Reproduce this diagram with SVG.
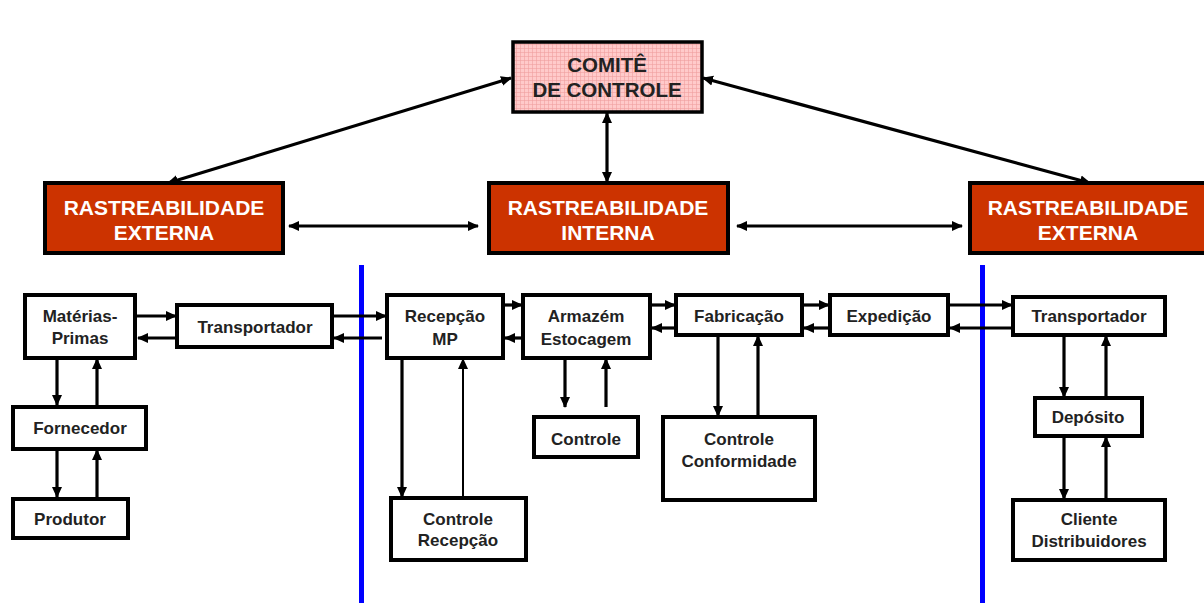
<svg xmlns="http://www.w3.org/2000/svg" width="1204" height="611" viewBox="0 0 1204 611">
<defs>
<pattern id="grid" width="4" height="4" patternUnits="userSpaceOnUse">
<rect width="4" height="4" fill="#ffcaca"/>
<path d="M0,0.5 H4 M0.5,0 V4" stroke="#f0a0a0" stroke-width="0.6"/>
</pattern>
<marker id="ah" markerUnits="userSpaceOnUse" markerWidth="11" markerHeight="11" refX="10" refY="5.5" orient="auto-start-reverse">
<path d="M0,0.5 L11,5.5 L0,10.5 z" fill="#000"/>
</marker>
</defs>
<style>
.box{fill:#fff;stroke:#000;stroke-width:4}
.red{fill:#cc3300;stroke:#000;stroke-width:4}
.pink{fill:url(#grid);stroke:#000;stroke-width:3.5}
.t{font-family:"Liberation Sans",Arial,sans-serif;font-weight:bold;font-size:17px;fill:#222;text-anchor:middle}
.tw{font-family:"Liberation Sans",Arial,sans-serif;font-weight:bold;font-size:21px;fill:#fff;text-anchor:middle}
.tc{font-family:"Liberation Sans",Arial,sans-serif;font-weight:bold;font-size:20.5px;fill:#222;text-anchor:middle}
.c{stroke:#000;stroke-width:3.2;fill:none;marker-end:url(#ah)}
.c2{stroke:#000;stroke-width:3.2;fill:none;marker-end:url(#ah);marker-start:url(#ah)}
.blue{stroke:#0000ff;stroke-width:5}
</style>
<rect width="1204" height="611" fill="#fff"/>
<g id="dividers">
<line class="blue" x1="361.5" y1="265" x2="361.5" y2="603"/>
<line class="blue" x1="982.5" y1="265" x2="982.5" y2="603"/>
</g>
<g id="connectors">
<line class="c2" x1="511" y1="78" x2="168" y2="183"/>
<line class="c2" x1="703" y1="78" x2="1090" y2="183"/>
<line class="c2" x1="607" y1="113" x2="607" y2="182"/>
<line class="c2" x1="289" y1="226" x2="478" y2="226"/>
<line class="c2" x1="737" y1="226" x2="962" y2="226"/>
<line class="c" x1="137" y1="316" x2="176" y2="316"/>
<line class="c" x1="177" y1="338" x2="138" y2="338"/>
<line class="c" x1="333" y1="316" x2="386" y2="316"/>
<line class="c" x1="382" y1="338" x2="334" y2="338"/>
<line class="c" x1="57" y1="359" x2="57" y2="405"/>
<line class="c" x1="97" y1="405" x2="97" y2="359"/>
<line class="c" x1="57" y1="450" x2="57" y2="497"/>
<line class="c" x1="97" y1="497" x2="97" y2="450"/>
<line class="c" x1="504" y1="305" x2="522" y2="305"/>
<line class="c" x1="523" y1="338" x2="505" y2="338"/>
<line class="c" x1="402" y1="359" x2="402" y2="497"/>
<line x1="463" y1="497" x2="463" y2="359" stroke="#000" stroke-width="2" marker-end="url(#ah)"/>
<line class="c" x1="565" y1="359" x2="565" y2="407"/>
<line class="c" x1="606" y1="407" x2="606" y2="359"/>
<line class="c" x1="651" y1="305" x2="675" y2="305"/>
<line class="c" x1="676" y1="328" x2="652" y2="328"/>
<line class="c" x1="803" y1="305" x2="829" y2="305"/>
<line class="c" x1="830" y1="328" x2="804" y2="328"/>
<line class="c" x1="949" y1="305" x2="1012" y2="305"/>
<line class="c" x1="1013" y1="328" x2="950" y2="328"/>
<line class="c" x1="718" y1="336" x2="718" y2="416"/>
<line class="c" x1="758" y1="416" x2="758" y2="336"/>
<line class="c" x1="1064" y1="336" x2="1064" y2="397"/>
<line class="c" x1="1106" y1="397" x2="1106" y2="336"/>
<line class="c" x1="1064" y1="437" x2="1064" y2="499"/>
<line class="c" x1="1106" y1="499" x2="1106" y2="437"/>
</g>
<g id="comite">
<rect class="pink" x="513" y="42" width="189" height="70"/>
<text class="tc" x="607" y="72">COMITÊ</text>
<text class="tc" x="607" y="97">DE CONTROLE</text>
</g>
<g id="rast-externa-esq">
<rect class="red" x="45" y="183" width="238" height="70"/>
<text class="tw" x="164" y="215">RASTREABILIDADE</text>
<text class="tw" x="164" y="240">EXTERNA</text>
</g>
<g id="rast-interna">
<rect class="red" x="489" y="183" width="239" height="70"/>
<text class="tw" x="608" y="215">RASTREABILIDADE</text>
<text class="tw" x="608" y="240">INTERNA</text>
</g>
<g id="rast-externa-dir">
<rect class="red" x="970" y="183" width="240" height="70"/>
<text class="tw" x="1088" y="215">RASTREABILIDADE</text>
<text class="tw" x="1088" y="240">EXTERNA</text>
</g>
<g id="materias-primas">
<rect class="box" x="25" y="295" width="110" height="63"/>
<text class="t" x="80" y="322">Matérias-</text>
<text class="t" x="80" y="344">Primas</text>
</g>
<g id="transportador-esq">
<rect class="box" x="177" y="305" width="155" height="42"/>
<text class="t" x="255" y="333">Transportador</text>
</g>
<g id="fornecedor">
<rect class="box" x="13" y="407" width="133" height="42"/>
<text class="t" x="80" y="434">Fornecedor</text>
</g>
<g id="produtor">
<rect class="box" x="13" y="499" width="115" height="39"/>
<text class="t" x="70" y="525">Produtor</text>
</g>
<g id="recepcao-mp">
<rect class="box" x="387" y="295" width="116" height="63"/>
<text class="t" x="445" y="322">Recepção</text>
<text class="t" x="445" y="345">MP</text>
</g>
<g id="armazem">
<rect class="box" x="523" y="295" width="127" height="63"/>
<text class="t" x="586" y="322">Armazém</text>
<text class="t" x="586" y="345">Estocagem</text>
</g>
<g id="controle">
<rect class="box" x="534" y="417" width="104" height="40"/>
<text class="t" x="586" y="445">Controle</text>
</g>
<g id="controle-recepcao">
<rect class="box" x="391" y="498" width="135" height="62"/>
<text class="t" x="458" y="525">Controle</text>
<text class="t" x="458" y="546">Recepção</text>
</g>
<g id="fabricacao">
<rect class="box" x="676" y="295" width="126" height="40"/>
<text class="t" x="739" y="322">Fabricação</text>
</g>
<g id="expedicao">
<rect class="box" x="830" y="295" width="118" height="40"/>
<text class="t" x="889" y="322">Expedição</text>
</g>
<g id="controle-conformidade">
<rect class="box" x="663" y="417" width="152" height="83"/>
<text class="t" x="739" y="445">Controle</text>
<text class="t" x="739" y="467">Conformidade</text>
</g>
<g id="transportador-dir">
<rect class="box" x="1013" y="297" width="152" height="38"/>
<text class="t" x="1089" y="322">Transportador</text>
</g>
<g id="deposito">
<rect class="box" x="1035" y="398" width="107" height="38"/>
<text class="t" x="1088" y="423">Depósito</text>
</g>
<g id="cliente">
<rect class="box" x="1013" y="500" width="152" height="60"/>
<text class="t" x="1089" y="525">Cliente</text>
<text class="t" x="1089" y="547">Distribuidores</text>
</g>
</svg>
